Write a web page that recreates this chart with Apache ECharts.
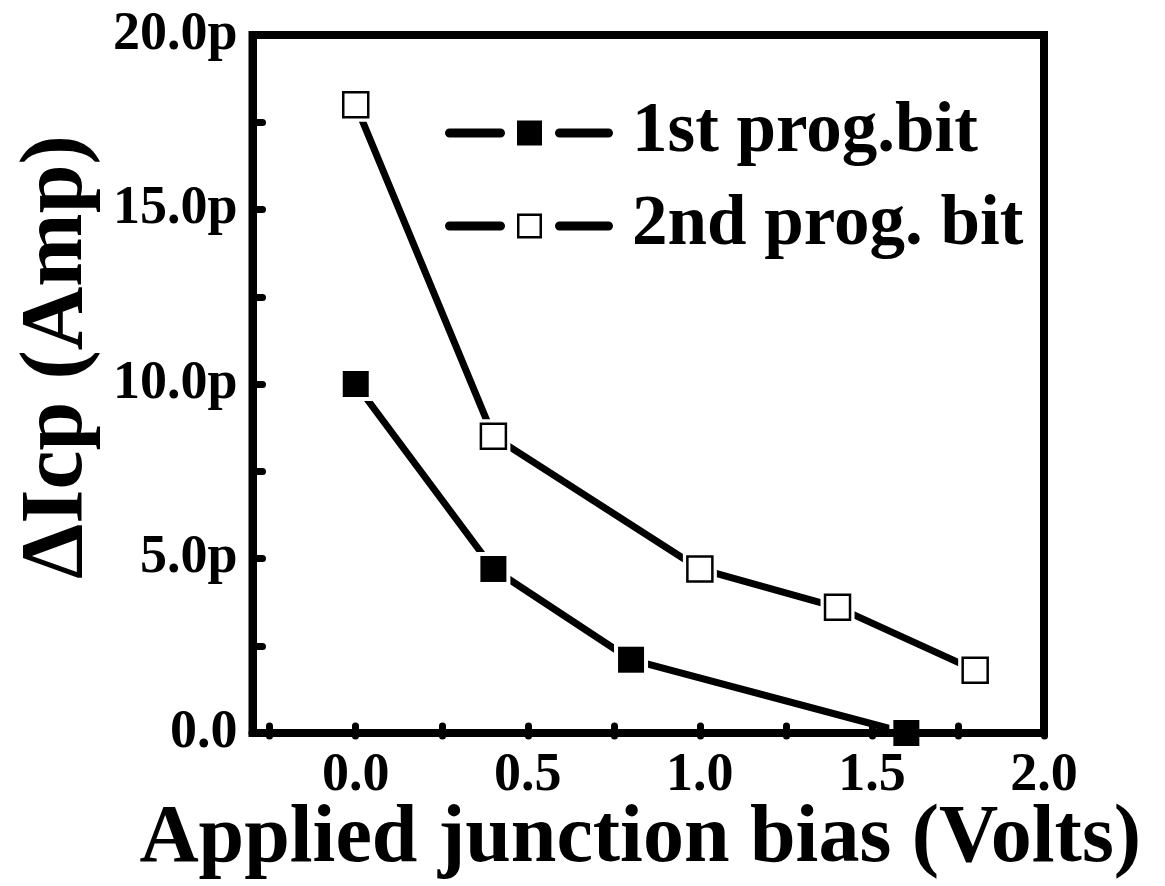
<!DOCTYPE html>
<html>
<head>
<meta charset="utf-8">
<script src="https://cdn.jsdelivr.net/npm/echarts@6/dist/echarts.min.js"></script>
<style>
  html, body { margin: 0; padding: 0; background: #fff; }
  #chart { width: 1165px; height: 886px; }
</style>
</head>
<body>
<div id="chart"></div>
<script>
// Applied junction bias (V) and charge-pumping current change (pA)
const bias1 = [0.0, 0.4, 0.8, 1.6];
const dIcp1 = [10.0, 4.7, 2.1, 0.0];
const bias2 = [0.0, 0.4, 1.0, 1.4, 1.8];
const dIcp2 = [18.0, 8.5, 4.7, 3.6, 1.8];

const seriesNames = ['1st prog.bit', '2nd prog. bit'];
const xTitle = 'Applied junction bias (Volts)';
const yTitle = '\u0394Icp (Amp)';

// axis ranges and tick spacing
const xMin = -0.3, xMax = 2.0;
const xTickStart = -0.25, xTickStep = 0.25, xLabelStep = 0.5;
const yMin = 0, yMax = 20, yTickStep = 2.5, yLabelStep = 5;

const FONT = "'Liberation Serif', 'Times New Roman', serif";

// plot box
const W = 1165, H = 886;
const boxLeft = 252.5, boxRight = 121, boxTop = 35, boxBottom = 150;
const boxW = W - boxLeft - boxRight;
// second grid carries the x ticks so that they line up on multiples of the step
const tickGridLeft = boxLeft + (xTickStart - xMin) / (xMax - xMin) * boxW;

const pairs = (xs, ys) => xs.map((x, i) => [x, ys[i]]);
const isMultiple = (v, step) => Math.abs(v / step - Math.round(v / step)) < 1e-6;

// legend icons: bar - square - bar
const bars = 'M4.5,9 L55.5,9 A4.5,4.5 0 0 1 55.5,18 L4.5,18 A4.5,4.5 0 0 1 4.5,9 Z ' +
             'M114.5,9 L163.5,9 A4.5,4.5 0 0 1 163.5,18 L114.5,18 A4.5,4.5 0 0 1 114.5,9 Z ';
const iconFilled = 'path://' + bars + 'M72,1 L97,1 L97,26 L72,26 Z';
const iconOpen = 'path://' + bars + 'M72,1 L97,1 L97,26 L72,26 Z M74.5,3.5 L74.5,23.5 L94.5,23.5 L94.5,3.5 Z';

const axisText = { color: '#000', fontFamily: FONT, fontWeight: 'bold', fontSize: 54 };
const tickStyle = { show: true, inside: true, length: 10, lineStyle: { color: '#000', width: 7, cap: 'round' } };

const chart = echarts.init(document.getElementById('chart'), null, { renderer: 'canvas' });
chart.setOption({
  animation: false,
  backgroundColor: '#fff',
  grid: [
    { left: boxLeft, right: boxRight, top: boxTop, bottom: boxBottom,
      show: true, borderColor: '#000', borderWidth: 8, backgroundColor: 'transparent' },
    { left: tickGridLeft, right: boxRight, top: boxTop, bottom: boxBottom, show: false }
  ],
  legend: {
    orient: 'vertical',
    left: 445, top: 96,
    padding: 0,
    itemGap: 19,
    itemWidth: 168, itemHeight: 27,
    symbolKeepAspect: true,
    selectedMode: false,
    textStyle: { color: '#000', fontFamily: FONT, fontWeight: 'bold', fontSize: 71, lineHeight: 74, padding: [0, 0, 0, 14] },
    data: [
      { name: seriesNames[0], icon: iconFilled, itemStyle: { color: '#000', borderWidth: 0 } },
      { name: seriesNames[1], icon: iconOpen, itemStyle: { color: '#000', borderWidth: 0 } }
    ]
  },
  xAxis: [
    {
      type: 'value', gridIndex: 0, min: xMin, max: xMax, z: 10,
      axisLine: { show: true, onZero: false, lineStyle: { color: '#000', width: 8, cap: 'round' } },
      axisTick: { show: false }, axisLabel: { show: false }, splitLine: { show: false },
      name: xTitle, nameLocation: 'middle', nameGap: 66,
      nameTextStyle: { color: '#000', fontFamily: FONT, fontWeight: 'bold', fontSize: 82, padding: [0, 16, 0, 0] }
    },
    {
      type: 'value', gridIndex: 1, min: xTickStart, max: xMax, interval: xTickStep, z: 10,
      axisLine: { show: false, onZero: false },
      axisTick: tickStyle,
      axisLabel: Object.assign({
        margin: 13,
        formatter: v => isMultiple(v, xLabelStep) ? v.toFixed(1) : ''
      }, axisText),
      splitLine: { show: false }
    }
  ],
  yAxis: [
    {
      type: 'value', gridIndex: 0, min: yMin, max: yMax, interval: yTickStep, z: 10,
      axisLine: { show: true, onZero: false, lineStyle: { color: '#000', width: 8, cap: 'round' } },
      axisTick: tickStyle,
      axisLabel: Object.assign({
        margin: 15,
        formatter: v => !isMultiple(v, yLabelStep) ? '' : (v === 0 ? '0.0' : v.toFixed(1) + 'p')
      }, axisText),
      splitLine: { show: false },
      name: yTitle, nameLocation: 'middle', nameGap: 150, nameRotate: 90,
      nameTextStyle: { color: '#000', fontFamily: FONT, fontWeight: 'bold', fontSize: 88, padding: [0, 0, 0, 54] }
    },
    { type: 'value', gridIndex: 1, min: yMin, max: yMax, show: false }
  ],
  series: [
    // connecting line; the white squares leave a small gap around each marker
    { name: seriesNames[0], type: 'line', xAxisIndex: 0, yAxisIndex: 0, data: pairs(bias1, dIcp1),
      symbol: 'square', symbolSize: 34, itemStyle: { color: '#fff', borderWidth: 0, opacity: 1 },
      lineStyle: { color: '#000', width: 7, cap: 'round' }, emphasis: { disabled: true }, z: 2 },
    { name: seriesNames[0], type: 'scatter', xAxisIndex: 0, yAxisIndex: 0, data: pairs(bias1, dIcp1),
      symbol: 'square', symbolSize: 26, itemStyle: { color: '#000', opacity: 1 }, emphasis: { disabled: true }, z: 3 },
    { name: seriesNames[1], type: 'line', xAxisIndex: 0, yAxisIndex: 0, data: pairs(bias2, dIcp2),
      symbol: 'square', symbolSize: 34, itemStyle: { color: '#fff', borderWidth: 0, opacity: 1 },
      lineStyle: { color: '#000', width: 7, cap: 'round' }, emphasis: { disabled: true }, z: 2 },
    { name: seriesNames[1], type: 'scatter', xAxisIndex: 0, yAxisIndex: 0, data: pairs(bias2, dIcp2),
      symbol: 'square', symbolSize: 25, itemStyle: { color: '#fff', borderColor: '#000', borderWidth: 2.5, opacity: 1 },
      emphasis: { disabled: true }, z: 3 }
  ]
});
</script>
</body>
</html>
